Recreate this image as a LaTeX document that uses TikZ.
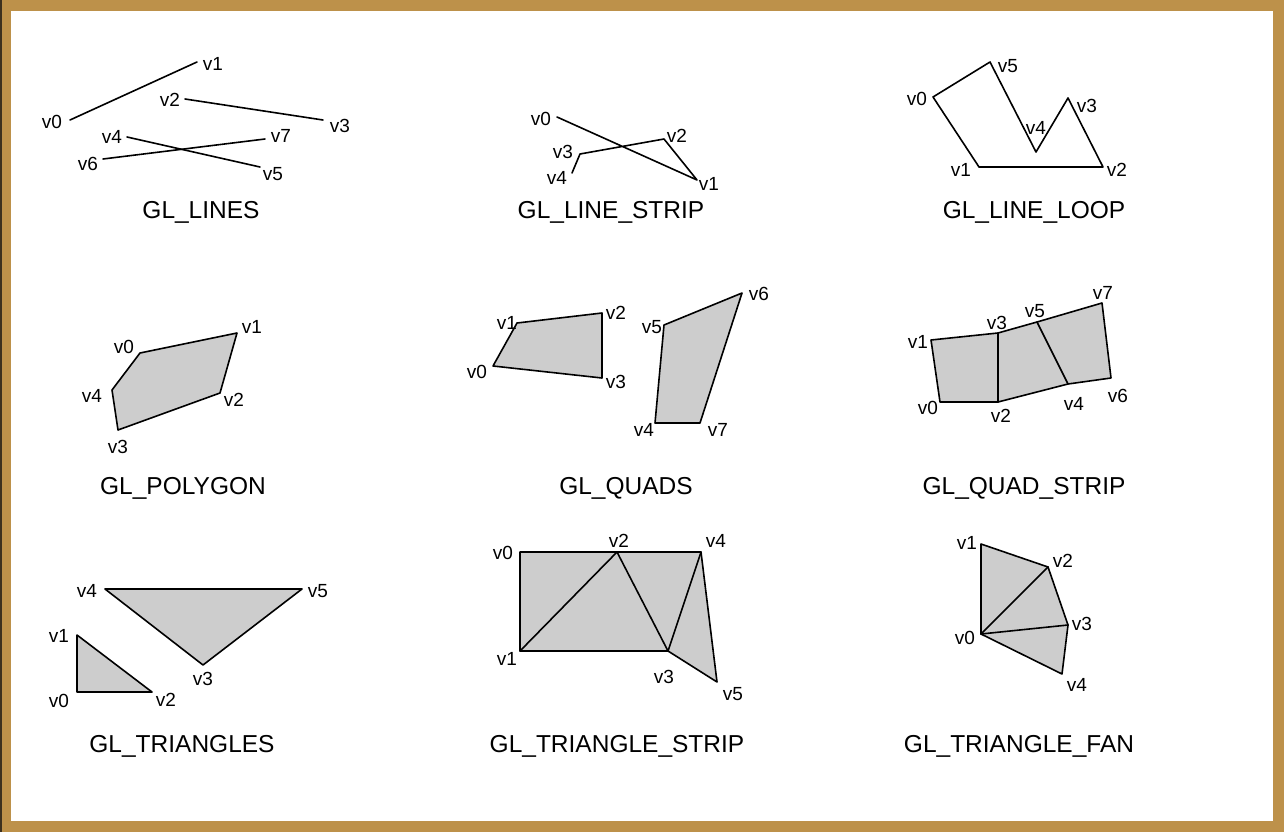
\documentclass[tikz,border=0pt]{standalone}
\usepackage{fontspec}
\setmainfont{Liberation Sans}
\definecolor{frametan}{RGB}{189,145,74}
\definecolor{framedark}{RGB}{60,48,30}
\definecolor{polyfill}{RGB}{205,205,205}
\begin{document}
\begin{tikzpicture}[x=1pt,y=-1pt,
  vlab/.style={inner sep=0pt,font=\fontsize{19}{19}\selectfont},
  ttl/.style={inner sep=0pt,font=\fontsize{24.5}{24.5}\selectfont},
  edge/.style={line width=1.6pt,line join=round,line cap=round},
  face/.style={fill=polyfill,draw=black,line width=1.6pt,line join=round}]
\useasboundingbox (0,0) rectangle (1284,832);
\fill[frametan] (0,0) rectangle (1284,832);
\fill[white] (11,11) rectangle (1273,821);
\fill[framedark] (0,0) rectangle (2,832);
% ---------- GL_LINES
\coordinate (a0) at (70,120); \coordinate (a1) at (197,62);
\coordinate (a2) at (185,99); \coordinate (a3) at (323,120);
\coordinate (a4) at (127,137); \coordinate (a5) at (260,167);
\coordinate (a6) at (103,159); \coordinate (a7) at (265,139);
\draw[edge] (a0) -- (a1); \draw[edge] (a2) -- (a3);
\draw[edge] (a4) -- (a5); \draw[edge] (a6) -- (a7);
\node[vlab] (la0) at (52,122) {v0}; \node[vlab] (la1) at (213,64) {v1};
\node[vlab] (la2) at (170,100) {v2}; \node[vlab] (la3) at (340,126) {v3};
\node[vlab] (la4) at (112,137) {v4}; \node[vlab] (la5) at (273,174) {v5};
\node[vlab] (la6) at (88,164) {v6}; \node[vlab] (la7) at (281,136) {v7};
\node[ttl] (ta) at (201,212) {GL\_LINES};
% ---------- GL_LINE_STRIP
\coordinate (b0) at (557,117); \coordinate (b1) at (697,180);
\coordinate (b2) at (664,139); \coordinate (b3) at (580,154);
\coordinate (b4) at (572,173);
\draw[edge] (b0) -- (b1) -- (b2) -- (b3) -- (b4);
\node[vlab] (lb0) at (541,119) {v0}; \node[vlab] (lb1) at (709,184) {v1};
\node[vlab] (lb2) at (677,136) {v2}; \node[vlab] (lb3) at (563,152) {v3};
\node[vlab] (lb4) at (557,178) {v4};
\node[ttl] (tb) at (611,212) {GL\_LINE\_STRIP};
% ---------- GL_LINE_LOOP
\coordinate (c0) at (933,97); \coordinate (c1) at (979,167);
\coordinate (c2) at (1103,167); \coordinate (c3) at (1068,98);
\coordinate (c4) at (1036,152); \coordinate (c5) at (990,62);
\draw[edge] (c0) -- (c1) -- (c2) -- (c3) -- (c4) -- (c5) -- cycle;
\node[vlab] (lc0) at (917,99) {v0}; \node[vlab] (lc1) at (961,170) {v1};
\node[vlab] (lc2) at (1117,170) {v2}; \node[vlab] (lc3) at (1087,106) {v3};
\node[vlab] (lc4) at (1036,128) {v4}; \node[vlab] (lc5) at (1008,66) {v5};
\node[ttl] (tc) at (1034,212) {GL\_LINE\_LOOP};
% ---------- GL_POLYGON
\coordinate (d0) at (140,353); \coordinate (d1) at (237,333);
\coordinate (d2) at (220,393); \coordinate (d3) at (118,430);
\coordinate (d4) at (112,390);
\draw[face] (d0) -- (d1) -- (d2) -- (d3) -- (d4) -- cycle;
\node[vlab] (ld0) at (124,347) {v0}; \node[vlab] (ld1) at (252,327) {v1};
\node[vlab] (ld2) at (234,400) {v2}; \node[vlab] (ld3) at (118,447) {v3};
\node[vlab] (ld4) at (92,396) {v4};
\node[ttl] (td) at (183,488) {GL\_POLYGON};
% ---------- GL_QUADS
\coordinate (e0) at (493,366); \coordinate (e1) at (517,323);
\coordinate (e2) at (602,313); \coordinate (e3) at (602,378);
\coordinate (e4) at (655,423); \coordinate (e5) at (664,325);
\coordinate (e6) at (742,293); \coordinate (e7) at (700,423);
\draw[face] (e0) -- (e1) -- (e2) -- (e3) -- cycle;
\draw[face] (e4) -- (e5) -- (e6) -- (e7) -- cycle;
\node[vlab] (le0) at (477,372) {v0}; \node[vlab] (le1) at (507,323) {v1};
\node[vlab] (le2) at (616,313) {v2}; \node[vlab] (le3) at (616,382) {v3};
\node[vlab] (le4) at (644,430) {v4}; \node[vlab] (le5) at (652,327) {v5};
\node[vlab] (le6) at (759,294) {v6}; \node[vlab] (le7) at (718,430) {v7};
\node[ttl] (te) at (626,488) {GL\_QUADS};
% ---------- GL_QUAD_STRIP
\coordinate (f0) at (940,402); \coordinate (f1) at (931,340);
\coordinate (f2) at (998,402); \coordinate (f3) at (998,333);
\coordinate (f4) at (1068,384); \coordinate (f5) at (1037,322);
\coordinate (f6) at (1111,378); \coordinate (f7) at (1102,303);
\draw[face] (f0) -- (f1) -- (f3) -- (f5) -- (f7) -- (f6) -- (f4) -- (f2) -- cycle;
\draw[edge] (f2) -- (f3);
\draw[edge] (f4) -- (f5);
\node[vlab] (lf0) at (928,408) {v0}; \node[vlab] (lf1) at (918,342) {v1};
\node[vlab] (lf2) at (1001,416) {v2}; \node[vlab] (lf3) at (997,323) {v3};
\node[vlab] (lf4) at (1074,404) {v4}; \node[vlab] (lf5) at (1035,311) {v5};
\node[vlab] (lf6) at (1118,396) {v6}; \node[vlab] (lf7) at (1103,293) {v7};
\node[ttl] (tf) at (1024,488) {GL\_QUAD\_STRIP};
% ---------- GL_TRIANGLES
\coordinate (g0) at (77,692); \coordinate (g1) at (77,635);
\coordinate (g2) at (152,692); \coordinate (g3) at (203,665);
\coordinate (g4) at (105,589); \coordinate (g5) at (302,589);
\draw[face] (g0) -- (g1) -- (g2) -- cycle;
\draw[face] (g3) -- (g4) -- (g5) -- cycle;
\node[vlab] (lg0) at (59,701) {v0}; \node[vlab] (lg1) at (59,636) {v1};
\node[vlab] (lg2) at (166,700) {v2}; \node[vlab] (lg3) at (203,679) {v3};
\node[vlab] (lg4) at (87,591) {v4}; \node[vlab] (lg5) at (318,591) {v5};
\node[ttl] (tg) at (182,746) {GL\_TRIANGLES};
% ---------- GL_TRIANGLE_STRIP
\coordinate (h0) at (520,552); \coordinate (h1) at (520,651);
\coordinate (h2) at (617,552); \coordinate (h3) at (668,651);
\coordinate (h4) at (701,552); \coordinate (h5) at (717,682);
\draw[face] (h0) -- (h2) -- (h4) -- (h5) -- (h3) -- (h1) -- cycle;
\draw[edge] (h1) -- (h2) -- (h3) -- (h4);
\node[vlab] (lh0) at (503,553) {v0}; \node[vlab] (lh1) at (507,659) {v1};
\node[vlab] (lh2) at (619,541) {v2}; \node[vlab] (lh3) at (664,677) {v3};
\node[vlab] (lh4) at (716,541) {v4}; \node[vlab] (lh5) at (733,694) {v5};
\node[ttl] (th) at (617,746) {GL\_TRIANGLE\_STRIP};
% ---------- GL_TRIANGLE_FAN
\coordinate (k0) at (981,634); \coordinate (k1) at (981,544);
\coordinate (k2) at (1048,567); \coordinate (k3) at (1068,625);
\coordinate (k4) at (1062,674);
\draw[face] (k0) -- (k1) -- (k2) -- (k3) -- (k4) -- cycle;
\draw[edge] (k0) -- (k2); \draw[edge] (k0) -- (k3);
\node[vlab] (lk0) at (965,638) {v0}; \node[vlab] (lk1) at (967,543) {v1};
\node[vlab] (lk2) at (1063,561) {v2}; \node[vlab] (lk3) at (1082,624) {v3};
\node[vlab] (lk4) at (1077,685) {v4};
\node[ttl] (tk) at (1019,746) {GL\_TRIANGLE\_FAN};
\end{tikzpicture}
\end{document}
